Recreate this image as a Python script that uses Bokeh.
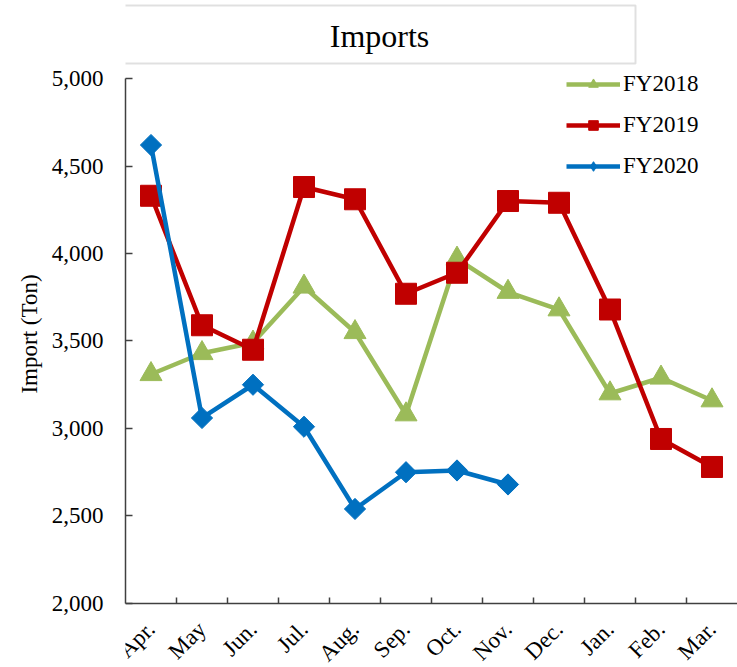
import math

from bokeh.embed import file_html
from bokeh.models import (BoxAnnotation, FixedTicker, Label, Legend, LegendItem,
                          NumeralTickFormatter, Range1d)
from bokeh.plotting import figure
from bokeh.resources import INLINE

# Monthly import volumes (tons), fiscal year April -> March
months = ["Apr.", "May", "Jun.", "Jul.", "Aug.", "Sep.",
          "Oct.", "Nov.", "Dec.", "Jan.", "Feb.", "Mar."]
fy2018 = [3310, 3430, 3490, 3810, 3550, 3080, 3970, 3780, 3680, 3200, 3290, 3160]
fy2019 = [4330, 3590, 3450, 4380, 4310, 3770, 3890, 4300, 4290, 3680, 2940, 2780]
fy2020 = [4620, 3060, 3250, 3010, 2540, 2750, 2760, 2680]
y_ticks = [2000, 2500, 3000, 3500, 4000, 4500, 5000]

FONT = "Liberation Serif"
GREEN, RED, BLUE = "#9BBB59", "#C00000", "#0070C0"
AXIS = "#404040"

# each month owns one unit slot; points sit at slot centres, ticks at slot edges
centers = [i + 0.5 for i in range(len(months))]
edges = list(range(1, len(months)))

# the frame fills the canvas below/right of the y axis; the value axis is bounded
# to 2,000-5,000 and the month axis is pinned at 2,000, leaving room for the
# header box above and the slanted month names below
p = figure(width=737, height=667, output_backend="svg", toolbar_location=None,
           x_range=Range1d(0, len(months)), y_range=Range1d(1634, 5446),
           min_border_left=125, min_border_right=0, min_border_top=0,
           min_border_bottom=0)
p.outline_line_color = None
p.xgrid.visible = False
p.ygrid.visible = False
p.background_fill_color = "white"
p.border_fill_color = "white"

# header box with the chart title (screen units, measured up from the frame bottom)
p.add_layout(BoxAnnotation(left=-2, right=510, top=662, bottom=604,
                           left_units="screen", right_units="screen",
                           top_units="screen", bottom_units="screen",
                           fill_color="white", fill_alpha=1,
                           line_color="#999999", line_width=2, level="underlay"))
p.add_layout(Label(x=254, y=632, x_units="screen", y_units="screen",
                   text="Imports", text_align="center", text_baseline="middle",
                   text_font=FONT, text_font_size="32px", text_color="black",
                   level="overlay"))


def series(values, color, marker, size, angle=0.0):
    xs = centers[:len(values)]
    ln = p.line(xs, values, line_color=color, line_width=4.5)
    sc = p.scatter(xs, values, marker=marker, size=size, angle=angle,
                   fill_color=color, line_color=color)
    return ln, sc


l18, s18 = series(fy2018, GREEN, "triangle", 22)
l19, s19 = series(fy2019, RED, "square", 21)
# FY2020: a narrow diamond underneath the rotated squares serves as the legend key
key20 = p.scatter(centers[:len(fy2020)], fy2020, marker="diamond", size=14,
                  fill_color=BLUE, line_color=BLUE)
l20, s20 = series(fy2020, BLUE, "square", 15, angle=math.pi / 4)

legend = Legend(items=[LegendItem(label="FY2018", renderers=[l18, s18]),
                       LegendItem(label="FY2019", renderers=[l19, s19]),
                       LegendItem(label="FY2020", renderers=[l20, key20])],
                location=(441, 488), orientation="vertical", padding=0, margin=0,
                spacing=15, glyph_width=54, glyph_height=24, label_height=24,
                label_standoff=3, border_line_color=None, background_fill_alpha=0,
                label_text_font=FONT, label_text_font_size="23px",
                label_text_color="black")
p.add_layout(legend)

# y axis
ya = p.yaxis[0]
ya.ticker = FixedTicker(ticks=y_ticks)
ya.formatter = NumeralTickFormatter(format="0,0")
ya.bounds = (y_ticks[0], y_ticks[-1])
ya.major_tick_in = 7
ya.major_tick_out = 0
ya.minor_tick_line_color = None
ya.major_label_standoff = 22
ya.major_label_text_font = FONT
ya.major_label_text_font_size = "23px"
ya.major_label_text_color = "black"
ya.axis_line_color = AXIS
ya.axis_line_width = 1.5
ya.major_tick_line_color = AXIS
ya.major_tick_line_width = 1.5
ya.axis_label = "Import (Ton)"
ya.axis_label_standoff = 7
ya.axis_label_text_font = FONT
ya.axis_label_text_font_size = "23px"
ya.axis_label_text_font_style = "normal"
ya.axis_label_text_color = "black"

# x axis at 2,000: month names at slot centres, short inward ticks at slot edges
xa = p.xaxis[0]
xa.fixed_location = y_ticks[0]
xa.ticker = FixedTicker(ticks=centers, minor_ticks=edges)
xa.major_label_overrides = {c: m for c, m in zip(centers, months)}
xa.major_tick_in = 0
xa.major_tick_out = 0
xa.minor_tick_in = 6
xa.minor_tick_out = 0
xa.minor_tick_line_color = AXIS
xa.minor_tick_line_width = 1.5
xa.axis_line_color = AXIS
xa.axis_line_width = 1.5
xa.major_label_orientation = math.pi / 4
xa.major_label_standoff = 22
xa.major_label_text_font = FONT
xa.major_label_text_font_size = "23px"
xa.major_label_text_color = "black"

open("out.html", "w").write(file_html(p, INLINE))
